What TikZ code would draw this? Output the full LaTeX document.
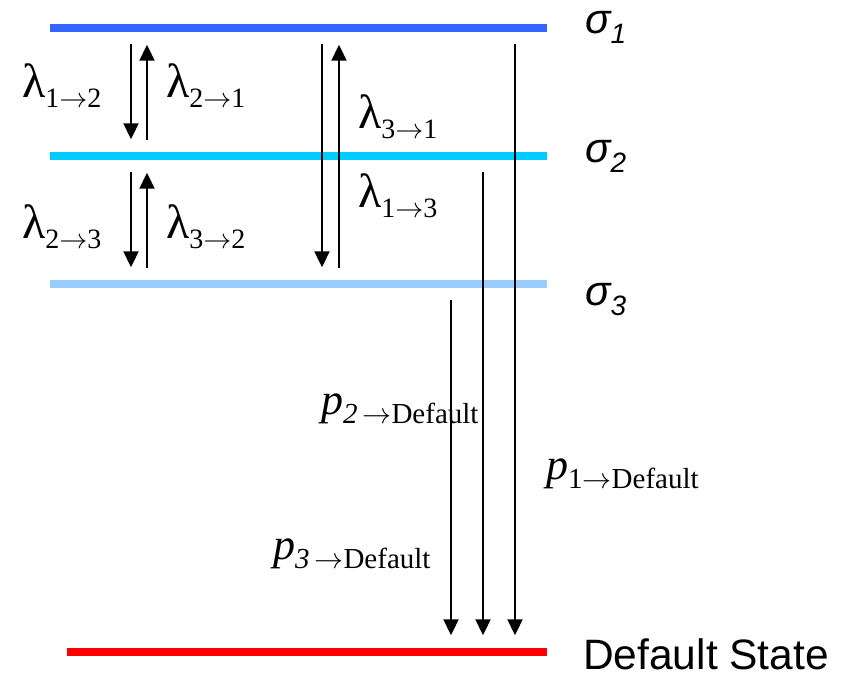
\documentclass[tikz,border=0pt]{standalone}
\usepackage{fix-cm}
\usepackage{fontspec}
\setmainfont{Liberation Serif}
\setsansfont{Liberation Sans}
\usepackage{tikz}
\usepackage{xcolor}
\usetikzlibrary{arrows.meta,positioning,calc}
\definecolor{LvOne}{HTML}{3366FF}
\definecolor{LvTwo}{HTML}{00CCFF}
\definecolor{LvThree}{HTML}{99CCFF}
\definecolor{LvDef}{HTML}{FF0000}
\newcommand{\lam}[2]{\fontsize{48}{48}\selectfont λ\raisebox{-10pt}{\fontsize{28}{28}\selectfont #1$\rightarrow$#2}}
\newcommand{\pdef}[1]{\fontsize{44}{44}\selectfont\textit{p}\raisebox{-9pt}{\fontsize{29}{29}\selectfont #1$\rightarrow$Default}}
\newcommand{\sig}[1]{\fontsize{42}{42}\selectfont\sffamily\itshape σ\raisebox{-10pt}{\fontsize{28}{28}\selectfont #1}}
\tikzset{level/.style={rectangle,inner sep=0pt,minimum height=8pt}, arrow/.style={-{Triangle[length=16pt,width=15pt]},line width=2pt,shorten <=11.5pt,shorten >=12.5pt}, lbl/.style={inner sep=0pt,anchor=base west}}

\begin{document}
\begin{tikzpicture}[x=1pt,y=-1pt]
\useasboundingbox (0,0) rectangle (848,678);
\node[level,fill=LvOne,minimum width=497pt] (s1) at (298.5,28) {};
\node[level,fill=LvTwo,minimum width=497pt] (s2) at (298.5,156) {};
\node[level,fill=LvThree,minimum width=497pt] (s3) at (298.5,284) {};
\node[level,fill=LvDef,minimum width=480pt] (def) at (307,652) {};
\node[lbl] (n1) at (585,33) {\sig{1}};
\node[lbl] (n2) at (585,162) {\sig{2}};
\node[lbl] (n3) at (585,305) {\sig{3}};
\node[lbl] (nd) at (583,669) {\fontsize{42.5}{42.5}\selectfont\sffamily Default State};
\coordinate (cd12) at (131,0);
\coordinate (cu21) at (147,0);
\coordinate (cd13) at (322,0);
\coordinate (cu31) at (339,0);
\coordinate (cp3) at (451,0);
\coordinate (cp2) at (483,0);
\coordinate (cp1) at (515,0);
\foreach \c/\hi/\lo in {cd12/s1/s2,cd12/s2/s3,cd13/s1/s3,cp1/s1/def,cp2/s2/def,cp3/s3/def}{\draw[arrow] (\hi.south -| \c)--(\lo.north -| \c);}
\foreach \c/\hi/\lo in {cu21/s1/s2,cu21/s2/s3,cu31/s1/s3}{\draw[arrow] (\lo.north -| \c)--(\hi.south -| \c);}
\node[lbl] (l12) at (22,97) {\lam{1}{2}};
\node[lbl] (l21) at (166,97) {\lam{2}{1}};
\node[lbl] (l23) at (22,238) {\lam{2}{3}};
\node[lbl] (l32) at (166,238) {\lam{3}{2}};
\node[lbl] (l31) at (358,128) {\lam{3}{1}};
\node[lbl] (l13) at (358,207) {\lam{1}{3}};
\node[lbl] (p2) at (321,414) {\pdef{\textit{2}\,}};
\node[lbl] (p1) at (546,479) {\pdef{1}};
\node[lbl] (p3) at (273,559) {\pdef{\textit{3}\,}};
\end{tikzpicture}
\end{document}
